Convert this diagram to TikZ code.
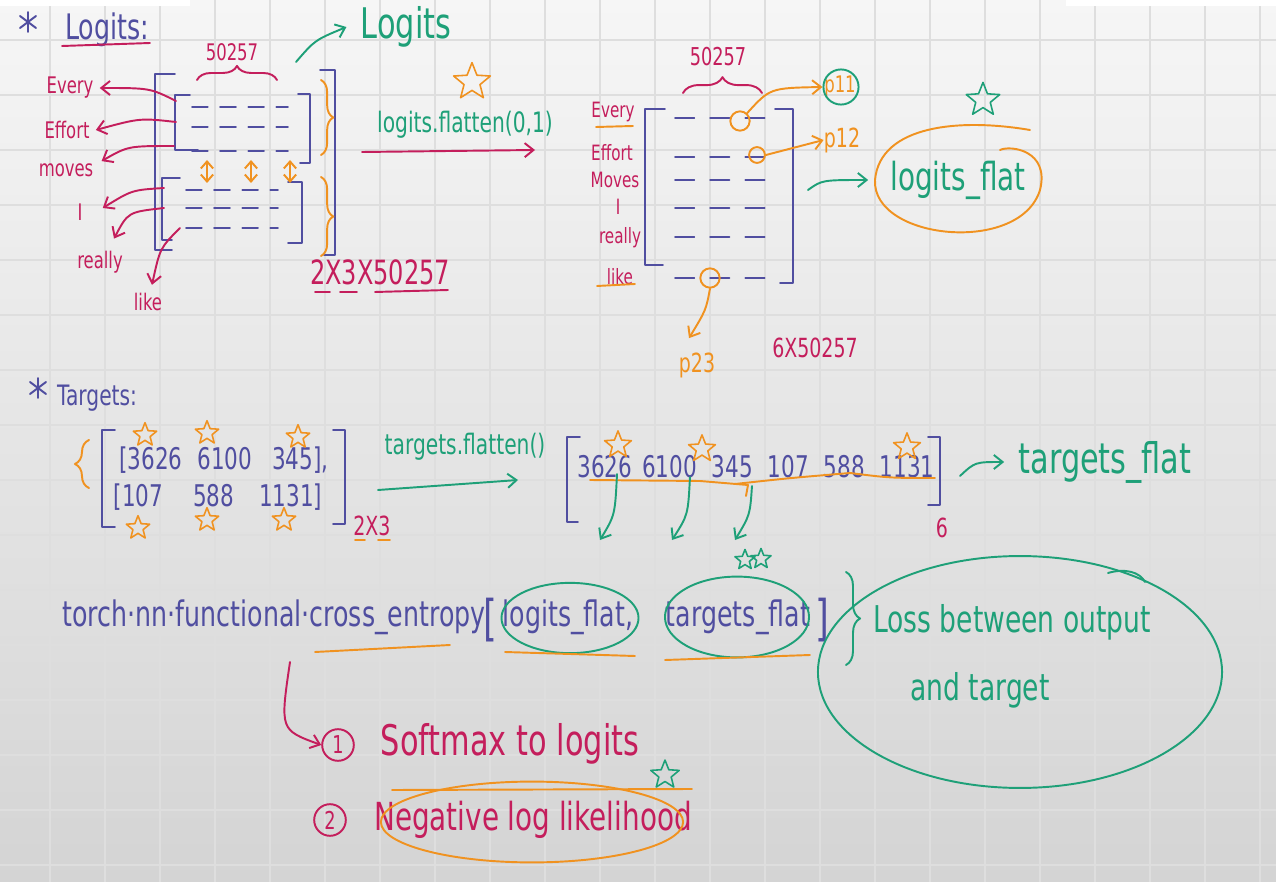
\documentclass[tikz,border=0pt]{standalone}
\usepackage{fontspec}
\setmainfont{DejaVu Sans}[FakeStretch=0.72]
\usetikzlibrary{arrows.meta,decorations.pathreplacing,shapes.geometric,calc}
\definecolor{ink}{RGB}{80,78,160}
\definecolor{mag}{RGB}{196,30,92}
\definecolor{grn}{RGB}{30,160,120}
\definecolor{org}{RGB}{240,146,32}
\definecolor{gridc}{RGB}{222,222,222}
\newcommand{\fsz}[1]{\fontsize{#1}{#1}\selectfont}
\begin{document}
\begin{tikzpicture}[x=0.02cm,y=-0.02cm,line cap=round,line join=round,
  pen/.style={line width=1.1pt},
  arr/.style={pen,-{Straight Barb[length=5pt,width=8pt]}},
  darr/.style={pen,{Straight Barb[length=4pt,width=7pt]}-{Straight Barb[length=4pt,width=7pt]}},
  lbl/.style={inner sep=0pt,font=\fsz{13}},
  brk/.style={pen,ink},
  dsh/.style={ink,line width=1pt,dash pattern=on 9pt off 7pt},
  brc/.style={pen,decorate,decoration={brace,amplitude=#1}},
  pstar/.style={star,star points=5,star point ratio=2.3,draw=org,line width=0.9pt,minimum size=#1,inner sep=0pt},
  gstar/.style={star,star points=5,star point ratio=2.3,draw=grn,line width=0.9pt,minimum size=#1,inner sep=0pt},
  ring/.style={circle,draw,line width=1.1pt,inner sep=0pt},
  loop/.style={ellipse,line width=1.1pt,inner sep=0pt}]
% background
\shade[top color={rgb,255:red,246;green,246;blue,246},bottom color={rgb,255:red,212;green,212;blue,212}] (0,0) rectangle (1276,882);
\useasboundingbox (0,0) rectangle (1276,882);
\foreach \x in {50,105,...,1270} \draw[gridc,line width=0.6pt] (\x,0) -- (\x,882);
\foreach \y in {40,95,...,880} \draw[gridc,line width=0.6pt] (0,\y) -- (1276,\y);
\fill[white] (0,0) rectangle (190,6);
\fill[white] (1066,0) rectangle (1276,6);

% ===== Logits section =====
\draw[ink,pen] (28,12) -- (28,32) (20,16) -- (36,28) (20,28) -- (36,16);
\node[ink,inner sep=0pt,font=\fsz{20}] (logitsT) at (107,30) {Logits:};
\draw[mag,pen] (62,46) -- (150,43);
\node[mag,inner sep=0pt,font=\fsz{13}] (n50a) at (232,52) {50257};
\draw[mag,brc=8pt] (197,80) -- (277,80);
\node[grn,inner sep=0pt,font=\fsz{24}] (logitsG) at (406,27) {Logits};
\coordinate (ga) at (296,62);
\draw[grn,arr] (ga) .. controls (315,40) .. ($(logitsG.west)+(-14,0)$);

% outer brackets
\draw[brk] (175,74) -- (155,74) -- (155,250) -- (172,250);
\draw[brk] (320,70) -- (335,70) -- (335,255) -- (324,255);
% inner 1
\draw[brk] (190,95) -- (175,95) -- (175,150) -- (198,150);
\draw[brk] (298,94) -- (310,94) -- (310,163) -- (300,163);
% inner 2
\draw[brk] (180,178) -- (162,178) -- (162,240) -- (172,240);
\draw[brk] (288,182) -- (302,182) -- (302,243) -- (288,243);
\foreach \y in {107,127,151} \draw[dsh] (192,\y) -- (288,\y);
\foreach \y in {190,208,228} \draw[dsh] (186,\y) -- (278,\y);
\foreach \x in {207,251,290} \draw[org,darr] (\x,160) -- (\x,183);
\draw[org,brc=7pt] (321,80) -- (321,155);
\draw[org,brc=7pt] (321,177) -- (321,256);
\node[mag,inner sep=0pt,font=\fsz{19}] (dims1) at (380,272) {2X3X50257};
\draw[mag,pen] (315,292) -- (330,292) (340,292) -- (357,292) (375,292) -- (448,290);

% labels left
\node[mag,lbl] (L1) at (70,88) {Every};
\node[mag,lbl] (L2) at (67,130) {Effort};
\node[mag,lbl] (L3) at (66,170) {moves};
\node[mag,lbl] (L4) at (80,212) {I};
\node[mag,lbl] (L5) at (100,262) {really};
\node[mag,lbl] (L6) at (148,302) {like};
\coordinate (r1) at (176,101); \coordinate (r2) at (176,122); \coordinate (r3) at (174,146);
\coordinate (r4) at (164,188); \coordinate (r5) at (164,208); \coordinate (r6) at (180,228);
\draw[mag,arr] (r1) .. controls (150,88) .. ($(L1.east)+(6,0)$);
\draw[mag,arr] (r2) .. controls (140,118) .. ($(L2.east)+(6,0)$);
\draw[mag,arr] (r3) .. controls (128,146) .. ($(L3.north east)+(8,-2)$);
\draw[mag,arr] (r4) .. controls (132,190) .. ($(L4.east)+(20,-4)$);
\draw[mag,arr] (r5) .. controls (128,212) .. ($(L5.north)+(14,-12)$);
\draw[mag,arr] (r6) .. controls (160,248) .. ($(L6.north)+(4,-8)$);

% flatten arrow
\node[pstar=22pt] (st1) at (472,82) {};
\node[grn,inner sep=0pt,font=\fsz{16}] (flat1) at (465,125) {logits.flatten(0,1)};
\coordinate (fa) at (362,152); \coordinate (fb) at (535,150);
\draw[mag,arr] (fa) -- (fb);

% flattened matrix
\node[mag,inner sep=0pt,font=\fsz{14}] (n50b) at (718,57) {50257};
\draw[mag,brc=9pt] (683,93) -- (762,93);
\draw[brk] (665,109) -- (645,109) -- (645,265) -- (663,265);
\draw[brk] (775,109) -- (793,109) -- (793,283) -- (780,283);
\node[mag,lbl,font=\fsz{12}] (M1) at (613,112) {Every};
\node[mag,lbl,font=\fsz{12}] (M2) at (612,153) {Effort};
\node[mag,lbl,font=\fsz{12}] (M3) at (615,180) {Moves};
\node[mag,lbl,font=\fsz{12}] (M4) at (618,207) {I};
\node[mag,lbl,font=\fsz{12}] (M5) at (620,238) {really};
\node[mag,lbl,font=\fsz{12}] (M6) at (620,277) {like};
\draw[org,pen] (596,127) -- (633,126);
\draw[org,pen] (597,286) -- (635,284);
\foreach \y in {118,157,180,208,237,278} \draw[dsh,dash pattern=on 11pt off 9pt] (675,\y) -- (770,\y);
\node[ring,org,minimum size=11pt] (c1) at (740,121) {};
\node[ring,org,minimum size=9pt] (c2) at (757,155) {};
\node[ring,org,minimum size=11pt] (c3) at (710,278) {};
\node[org,inner sep=0pt,font=\fsz{13}] (p11) at (840,87) {p11};
\node[ring,grn,minimum size=20pt] (p11r) at (841,87) {};
\node[org,inner sep=0pt,font=\fsz{15}] (p12) at (842,140) {p12};
\node[org,inner sep=0pt,font=\fsz{15}] (p23) at (697,365) {p23};
\draw[org,arr] (c1) .. controls (770,88) .. (p11r.west);
\draw[org,arr] (c2.east) -- (p12.west);
\draw[org,arr] (c3.south) .. controls (706,310) .. ($(p23.north)+(-8,-14)$);
\node[mag,inner sep=0pt,font=\fsz{15}] (d6) at (815,348) {6X50257};
\node[grn,inner sep=0pt,font=\fsz{22}] (lflat) at (958,180) {logits\_flat};
\coordinate (g2) at (808,190);
\draw[grn,arr] (g2) .. controls (822,180) .. ($(lflat.west)+(-22,0)$);
\draw[org,pen] (1030,130) .. controls (960,118) and (880,125) .. (875,180)
  .. controls (872,240) and (1020,255) .. (1040,190) .. controls (1050,150) and (1010,145) .. (1000,150);
\node[gstar=20pt] (st2) at (983,100) {};

% ===== Targets section =====
\draw[ink,pen] (38,378) -- (38,398) (30,382) -- (46,394) (30,394) -- (46,382);
\node[ink,inner sep=0pt,font=\fsz{16}] (targT) at (97,398) {Targets:};
\draw[org,brc=8pt] (89,488) -- (89,440);
\draw[brk] (115,430) -- (102,430) -- (102,527) -- (115,527);
\draw[brk] (333,430) -- (345,430) -- (345,524) -- (333,524);
\node[ink,inner sep=0pt,font=\fsz{17}] (row1) at (224,460) {[3626\,\,\,6100\,\,\,\,345],};
\node[ink,inner sep=0pt,font=\fsz{17}] (row2) at (218,497) {[107\,\,\,\,\,\,588\,\,\,\,\,1131]};
\foreach \p [count=\i] in {(145,435),(207,433),(298,437),(138,528),(207,520),(284,520)}
  \node[pstar=14pt] (ts\i) at \p {};
\node[mag,inner sep=0pt,font=\fsz{15}] (d23) at (372,526) {2X3};
\draw[org,pen] (355,540) -- (365,540) (378,540) -- (390,540);
\node[grn,inner sep=0pt,font=\fsz{16}] (tflat1) at (465,447) {targets.flatten()};
\coordinate (ta) at (378,490); \coordinate (tb) at (518,480);
\draw[grn,arr] (ta) -- (tb);
\draw[brk] (580,437) -- (567,437) -- (567,522) -- (578,522);
\draw[brk] (928,437) -- (940,437) -- (940,505) -- (928,505);
\node[ink,inner sep=0pt,font=\fsz{17}] (flatnums) at (756,467) {3626\,\,6100\,\,\,345\,\,\,107\,\,\,588\,\,\,1131};
\foreach \p [count=\i] in {(618,445),(702,449),(907,447)} \node[pstar=16pt] (fs\i) at \p {};
\draw[org,pen] (590,480) -- (700,481) -- (748,485) -- (746,496);
\draw[org,pen] (735,484) .. controls (790,478) .. (850,473) .. controls (890,478) .. (935,478);
\coordinate (ga1) at (617,474); \coordinate (gb1) at (600,540);
\coordinate (ga2) at (690,477); \coordinate (gb2) at (672,540);
\coordinate (ga3) at (752,486); \coordinate (gb3) at (735,540);
\draw[grn,arr] (ga1) .. controls (615,515) .. (gb1);
\draw[grn,arr] (ga2) .. controls (688,515) .. (gb2);
\draw[grn,arr] (ga3) .. controls (750,515) .. (gb3);
\node[mag,inner sep=0pt,font=\fsz{15}] (six) at (942,528) {6};
\node[grn,inner sep=0pt,font=\fsz{24}] (tflat) at (1105,462) {targets\_flat};
\coordinate (g3) at (960,476);
\draw[grn,arr] (g3) .. controls (975,462) .. ($(tflat.west)+(-14,0)$);

% ===== Cross entropy =====
\node[ink,inner sep=0pt,anchor=west,font=\fsz{20}] (ce) at (62,617) {torch·nn·functional·cross\_entropy};
\node[ink,inner sep=0pt,font=\fsz{28}] (lb) at (490,620) {[};
\node[ink,inner sep=0pt,font=\fsz{20}] (lf) at (568,617) {logits\_flat,};
\node[ink,inner sep=0pt,font=\fsz{20}] (tf) at (738,617) {targets\_flat};
\node[ink,inner sep=0pt,font=\fsz{28}] (rb) at (822,620) {]};
\node[loop,draw=grn,minimum width=78pt,minimum height=40pt] (e1) at (570,618) {};
\node[loop,draw=grn,minimum width=82pt,minimum height=46pt] (e2) at (737,617) {};
\node[gstar=12pt] (gs1) at (745,560) {};
\node[gstar=12pt] (gs2) at (761,559) {};
\draw[org,pen] (315,652) -- (450,645);
\draw[org,pen] (505,652) -- (635,656);
\draw[org,pen] (665,660) -- (810,655);
\draw[grn,brc=8pt] (846,572) -- (846,665);
\node[grn,inner sep=0pt,font=\fsz{21}] (loss1) at (1012,622) {Loss between output};
\node[grn,inner sep=0pt,font=\fsz{21}] (loss2) at (980,690) {and target};
\node[loop,draw=grn,minimum width=230pt,minimum height=132pt] (e3) at (1020,672) {};
\draw[grn,pen] (1108,573) .. controls (1125,568) and (1140,572) .. (1145,582);

\node[ring,mag,minimum size=18pt,font=\fsz{14}] (one) at (338,745) {1};
\node[mag,inner sep=0pt,font=\fsz{24}] (soft) at (510,744) {Softmax to logits};
\coordinate (ca) at (290,662);
\draw[mag,arr] (ca) .. controls (280,730) .. (one.west);
\node[ring,mag,minimum size=18pt,font=\fsz{14}] (two) at (330,820) {2};
\node[mag,inner sep=0pt,font=\fsz{22}] (nll) at (533,820) {Negative log likelihood};
\node[loop,draw=org,minimum width=172pt,minimum height=46pt] (e4) at (532,822) {};
\draw[org,pen] (392,790) -- (692,789);
\node[gstar=17pt] (gs3) at (665,775) {};
\end{tikzpicture}
\end{document}
